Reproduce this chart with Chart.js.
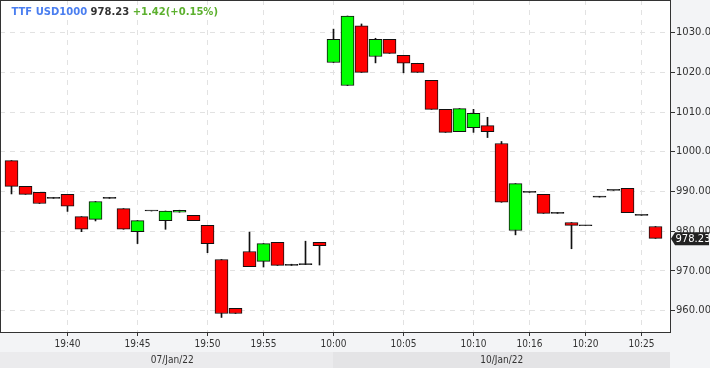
<!DOCTYPE html>
<html>
<head>
<meta charset="utf-8">
<script src="https://cdn.jsdelivr.net/npm/chart.js@4.4.1/dist/chart.umd.min.js"></script>
<style>
html, body { margin: 0; padding: 0; background: #f3f4f6; }
#wrap { width: 710px; height: 368px; }
</style>
</head>
<body>
<div id="wrap"><canvas id="chart" width="710" height="368"></canvas></div>
<script>
// one candle per minute (some minutes missing in the feed)
const times = ["19:36","19:37","19:38","19:39","19:40","19:41","19:42","19:43","19:44","19:45",
    "19:46","19:47","19:48","19:49","19:50","19:51","19:52","19:54","19:55","19:56",
    "19:57","19:58","19:59","10:00","10:01","10:02","10:03","10:04","10:05","10:06",
    "10:07","10:08","10:09","10:10","10:11","10:13","10:15","10:16","10:17","10:18",
    "10:19","10:20","10:21","10:22","10:24","10:25","10:26"];

const opens = [997.8, 991.3, 989.8, 988.3, 989.3, 983.7, 983.0, 988.5, 985.7, 979.9,
    985.1, 982.7, 984.8, 984.0, 981.5, 972.9, 960.6, 974.9, 972.4, 977.2,
    971.4, 971.6, 977.2, 1022.5, 1016.7, 1031.7, 1024.0, 1028.3, 1024.3, 1022.3,
    1018.0, 1010.7, 1005.1, 1006.1, 1006.6, 1002.1, 980.2, 989.8, 989.3, 984.7,
    982.2, 981.4, 988.8, 990.3, 990.8, 984.0, 981.2];
const highs = [997.8, 991.3, 989.8, 988.5, 989.3, 983.7, 987.5, 988.5, 985.7, 982.7,
    985.1, 985.1, 985.3, 984.0, 981.5, 972.9, 960.6, 979.8, 976.9, 977.2,
    971.7, 977.5, 977.2, 1030.9, 1034.2, 1032.2, 1028.6, 1028.3, 1024.3, 1022.3,
    1018.0, 1010.7, 1010.9, 1010.7, 1008.7, 1002.6, 992.0, 989.8, 989.3, 984.7,
    982.2, 981.4, 988.8, 990.3, 990.8, 984.0, 981.2];
const lows = [989.4, 989.3, 987.0, 988.3, 985.0, 979.9, 982.6, 988.3, 980.5, 976.9,
    985.1, 980.5, 984.8, 982.7, 974.6, 958.3, 959.3, 971.1, 971.0, 971.4,
    971.4, 971.6, 971.5, 1022.5, 1016.7, 1020.0, 1022.4, 1024.8, 1019.9, 1020.0,
    1010.7, 1004.9, 1005.1, 1004.9, 1003.6, 987.3, 979.1, 989.8, 984.5, 984.5,
    975.6, 981.4, 988.6, 990.3, 984.7, 984.0, 978.2];
const closes = [991.3, 989.3, 987.0, 988.5, 986.3, 980.5, 987.5, 988.3, 980.5, 982.7,
    985.1, 985.1, 985.3, 982.7, 976.9, 959.3, 959.3, 971.1, 976.9, 971.4,
    971.4, 971.6, 976.4, 1028.3, 1034.2, 1020.0, 1028.3, 1024.8, 1022.3, 1020.0,
    1010.7, 1004.9, 1010.9, 1009.7, 1005.1, 987.3, 992.0, 989.8, 984.5, 984.5,
    981.5, 981.4, 988.6, 990.3, 984.7, 984.0, 978.23];

const shownTimes = ["19:40","19:45","19:50","19:55","10:00","10:05","10:10","10:16","10:20","10:25"];
const yTicks = [960, 970, 980, 990, 1000, 1010, 1020, 1030];
const dayLabels = ["07/Jan/22", "10/Jan/22"];
const dayStart = ["19:36", "10:00"];

const symbol = "TTF USD1000";
const lastPrice = "978.23";
const change = "+1.42(+0.15%)";

const UP = "#00ff00", DOWN = "#ff0000", EDGE = "#111111";

const idx = times.map((t, i) => i);
const bodies = idx.map(i => ({ x: i, y: [opens[i], closes[i]] }));
const wicks = idx.map(i => ({ x: i, y: [lows[i], highs[i]] }));
// near-flat bodies come out as plain dark dashes
const bodyColors = idx.map(i => {
    if (Math.abs(closes[i] - opens[i]) < 0.3) return EDGE;
    return closes[i] >= opens[i] ? UP : DOWN;
});

// no automatic label padding, the plot box is fixed
function noPad(s) {
    s.paddingLeft = s.paddingRight = s.paddingTop = s.paddingBottom = 0;
}

const extras = {
    id: "extras",
    beforeDraw(chart) {
        const { ctx, chartArea: a } = chart;
        ctx.save();
        ctx.fillStyle = "#f3f4f6";
        ctx.fillRect(0, 0, chart.width, chart.height);
        ctx.fillStyle = "#ffffff";
        ctx.fillRect(a.left, a.top, a.right - a.left, a.bottom - a.top);

        // date band under the time axis
        const xs = chart.scales.x;
        const bandTop = 352;
        const starts = dayStart.map(t => times.indexOf(t));
        starts.forEach((s, k) => {
            const x0 = k === 0 ? a.left : xs.getPixelForValue(s) - 0.5;
            const x1 = k < starts.length - 1 ? xs.getPixelForValue(starts[k + 1]) - 0.5 : a.right - 1;
            ctx.fillStyle = k === 0 ? "#ebebed" : "#e4e4e6";
            ctx.fillRect(x0, bandTop, x1 - x0, chart.height - bandTop);
            const from = Math.max(x0, xs.getPixelForValue(s));
            ctx.fillStyle = "#333";
            ctx.font = "10px 'DejaVu Sans Condensed'";
            ctx.textAlign = "center";
            ctx.textBaseline = "middle";
            ctx.fillText(dayLabels[k], (from + x1) / 2, 360);
        });
        ctx.restore();
    },
    afterDraw(chart) {
        const { ctx } = chart;
        ctx.save();
        // frame
        ctx.strokeStyle = "#333";
        ctx.lineWidth = 1;
        ctx.strokeRect(0.5, 0.5, 670, 332);

        // header
        ctx.font = "bold 10px 'DejaVu Sans'";
        ctx.textBaseline = "alphabetic";
        ctx.textAlign = "left";
        let x = 11.5;
        ctx.fillStyle = "#4a7ef0";
        ctx.fillText(symbol, x, 15);
        x += ctx.measureText(symbol + " ").width;
        ctx.fillStyle = "#333333";
        ctx.fillText(lastPrice, x, 15);
        x += ctx.measureText(lastPrice + " ").width;
        ctx.fillStyle = "#5cb02e";
        ctx.fillText(change, x, 15);

        // last price tag
        const y = chart.scales.y.getPixelForValue(parseFloat(lastPrice)) + 0.5;
        ctx.fillStyle = "#222";
        ctx.beginPath();
        ctx.moveTo(671, y);
        ctx.lineTo(675, y - 6.5);
        ctx.lineTo(709, y - 6.5);
        ctx.lineTo(709, y + 6.5);
        ctx.lineTo(675, y + 6.5);
        ctx.closePath();
        ctx.fill();
        ctx.fillStyle = "#fff";
        ctx.font = "10px 'DejaVu Sans'";
        ctx.textBaseline = "middle";
        ctx.fillText(lastPrice, 675.5, y + 0.5);
        ctx.restore();
    }
};

const ctx = document.getElementById("chart").getContext("2d");
new Chart(ctx, {
    type: "bar",
    data: {
        datasets: [{
            label: "wick",
            data: wicks,
            backgroundColor: EDGE,
            borderWidth: 0,
            barThickness: 1,
            grouped: false,
            order: 2
        }, {
            label: "body",
            data: bodies,
            backgroundColor: bodyColors,
            borderColor: EDGE,
            borderWidth: 1,
            borderSkipped: false,
            barThickness: 13,
            minBarLength: 1,
            grouped: false,
            order: 1
        }]
    },
    options: {
        responsive: false,
        animation: false,
        devicePixelRatio: 1,
        layout: { padding: 0 },
        plugins: {
            legend: { display: false },
            tooltip: { enabled: false }
        },
        scales: {
            x: {
                type: "linear",
                offset: false,
                min: -11.5 / 14,
                max: (671 - 11.5) / 14,
                afterBuildTicks: s => {
                    s.ticks = shownTimes.map(t => ({ value: times.indexOf(t) }));
                },
                afterFit: s => { s.height = 35; noPad(s); },
                ticks: {
                    autoSkip: false,
                    maxRotation: 0,
                    padding: 2,
                    color: "#333",
                    font: { family: "'DejaVu Sans Condensed'", size: 10 },
                    callback: v => times[v]
                },
                grid: {
                    offset: false,
                    color: "#e2e2e2",
                    tickColor: "#333",
                    tickLength: 3
                },
                border: { display: false, dash: [5, 5] }
            },
            y: {
                position: "right",
                min: 954.385,
                max: 1038.234,
                afterBuildTicks: s => {
                    s.ticks = yTicks.map(v => ({ value: v }));
                },
                afterFit: s => { s.width = 39; noPad(s); },
                ticks: {
                    padding: 1,
                    color: "#333",
                    font: { family: "'DejaVu Sans'", size: 10 },
                    callback: v => v.toFixed(2)
                },
                grid: {
                    color: "#e2e2e2",
                    tickColor: "#333",
                    tickLength: 4
                },
                border: { display: false, dash: [5, 5] }
            }
        }
    },
    plugins: [extras]
});
</script>
</body>
</html>
